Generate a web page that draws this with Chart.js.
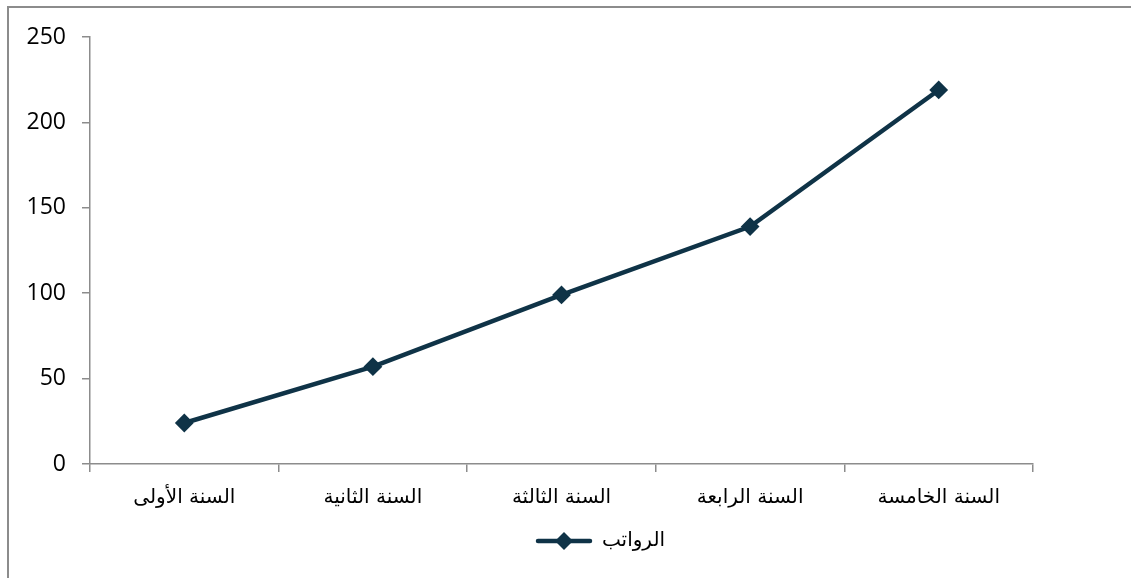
<!DOCTYPE html>
<html>
<head>
<meta charset="utf-8">
<script src="https://cdn.jsdelivr.net/npm/chart.js@4.4.1/dist/chart.umd.min.js"></script>
<style>
  html, body { margin: 0; padding: 0; background: #fff; }
  body { width: 1131px; height: 578px; overflow: hidden; position: relative; }
  #frame { position: absolute; left: 7px; top: 6px; width: 1140px; height: 600px; border-left: 2px solid #8c8c8c; border-top: 2px solid #8c8c8c; }
  #wrap { position: absolute; left: 0; top: 0; width: 1131px; height: 578px; }
</style>
</head>
<body>
<div id="frame"></div>
<div id="wrap"><canvas id="c" width="1131" height="578"></canvas></div>
<script>
const categories = ['السنة الأولى', 'السنة الثانية', 'السنة الثالثة', 'السنة الرابعة', 'السنة الخامسة'];
const seriesName = 'الرواتب';
const salaries = [24, 57, 99, 139, 219];
const yTicks = [0, 50, 100, 150, 200, 250];

const lineColor = '#0f3347';

// legend symbol: line with a diamond
const sym = document.createElement('canvas');
sym.width = 58; sym.height = 22;
(function () {
  const g = sym.getContext('2d');
  g.strokeStyle = lineColor; g.lineWidth = 4.5; g.lineCap = 'round';
  g.beginPath(); g.moveTo(3, 11); g.lineTo(55, 11); g.stroke();
  g.fillStyle = lineColor;
  g.beginPath(); g.moveTo(29, 2); g.lineTo(38, 11); g.lineTo(29, 20); g.lineTo(20, 11); g.closePath(); g.fill();
})();

const legendShift = {
  id: 'legendShift',
  afterLayout(chart) {
    const lg = chart.legend;
    if (lg) { lg.left += 84; lg.right += 84; }
  }
};

new Chart(document.getElementById('c'), {
  type: 'line',
  data: {
    labels: categories,
    datasets: [{
      label: seriesName,
      data: salaries,
      borderColor: lineColor,
      backgroundColor: lineColor,
      borderWidth: 4.5,
      pointStyle: 'rectRot',
      pointRadius: 8,
      pointBorderWidth: 2,
      pointBackgroundColor: lineColor,
      pointBorderColor: lineColor,
      tension: 0
    }]
  },
  plugins: [legendShift],
  options: {
    responsive: false,
    animation: false,
    layout: { padding: { left: 0, right: 98, top: 37, bottom: 17 } },
    plugins: {
      tooltip: { enabled: false },
      legend: {
        position: 'bottom',
        labels: {
          usePointStyle: true,
          pointStyleWidth: 56,
          padding: 10,
          color: '#000',
          font: { family: 'DejaVu Sans', size: 20 },
          generateLabels: (chart) => [{
            text: seriesName,
            pointStyle: sym,
            fillStyle: lineColor,
            strokeStyle: lineColor,
            lineWidth: 0,
            datasetIndex: 0
          }]
        }
      }
    },
    scales: {
      x: {
        offset: true,
        grid: { display: true, drawOnChartArea: false, offset: true, tickLength: 8, color: '#8c8c8c', lineWidth: 1.5 },
        border: { color: '#8c8c8c', width: 1.5 },
        ticks: { color: '#000', font: { family: 'DejaVu Sans', size: 20 }, padding: 14, maxRotation: 0 },
        afterFit: (s) => { s.height = 57; }
      },
      y: {
        min: 0, max: 250,
        afterBuildTicks: (s) => { s.ticks = yTicks.map(v => ({ value: v })); },
        grid: { display: true, drawOnChartArea: false, tickLength: 8, color: '#8c8c8c', lineWidth: 1.5 },
        border: { color: '#8c8c8c', width: 1.5 },
        ticks: { color: '#000', font: { family: 'Open Sans', size: 23 }, padding: 16 },
        afterFit: (s) => { s.width = 90; }
      }
    }
  }
});
</script>
</body>
</html>
